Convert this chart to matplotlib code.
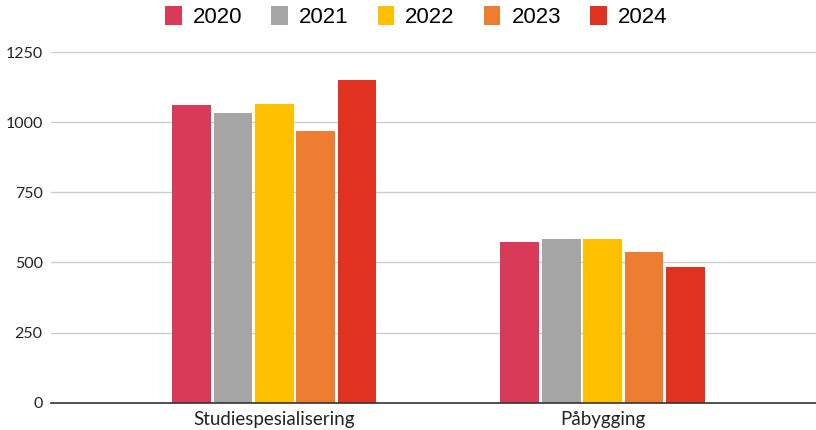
import matplotlib
matplotlib.use("Agg")
import matplotlib.pyplot as plt
import numpy as np

categories = ["Studiespesialisering", "Påbygging"]
years = ["2020", "2021", "2022", "2023", "2024"]
values_2020 = [1062, 574]
values_2021 = [1034, 584]
values_2022 = [1066, 584]
values_2023 = [970, 538]
values_2024 = [1151, 484]
yticks = [0, 250, 500, 750, 1000, 1250]

series = [values_2020, values_2021, values_2022, values_2023, values_2024]
colors = ["#D93A58", "#A5A5A5", "#FFC000", "#ED7D31", "#E0321E"]

fig = plt.figure(figsize=(8.16, 4.30), dpi=100)
ax = fig.add_axes([0.0625, 0.0635, 0.9375, 0.8155])

x = np.arange(len(categories))
slot = 0.126
width = 0.118
handles = []
for i, (vals, c, yr) in enumerate(zip(series, colors, years)):
    b = ax.bar(x + (i - 2) * slot, vals, width=width, color=c, label=yr, zorder=3)
    handles.append(b)

ax.set_xlim(-0.68, 1.65)
ax.set_ylim(0, 1250)
ax.set_yticks(yticks)
ax.set_yticklabels([str(t) for t in yticks], fontfamily="Lato", fontsize=11.5, color="#222222")
ax.set_xticks(x)
ax.set_xticklabels(categories, fontfamily="Lato", fontsize=13.5, color="#222222")
ax.tick_params(axis="x", length=0, pad=6)
ax.tick_params(axis="y", length=0, pad=6)
ax.grid(axis="y", color="#CCCCCC", linewidth=1, zorder=0)
for s in ["top", "right", "left"]:
    ax.spines[s].set_visible(False)
ax.spines["bottom"].set_color("#333333")
ax.spines["bottom"].set_linewidth(1.2)
ax.spines["bottom"].set_zorder(4)

fig.legend(handles=handles, labels=years, loc="center", bbox_to_anchor=(0.51, 0.96),
           ncol=5, frameon=False, prop={"family": "Liberation Sans", "size": 16},
           handlelength=0.75, handleheight=0.9, handletextpad=0.5, columnspacing=1.3)

fig.savefig("out.png", dpi=100)
